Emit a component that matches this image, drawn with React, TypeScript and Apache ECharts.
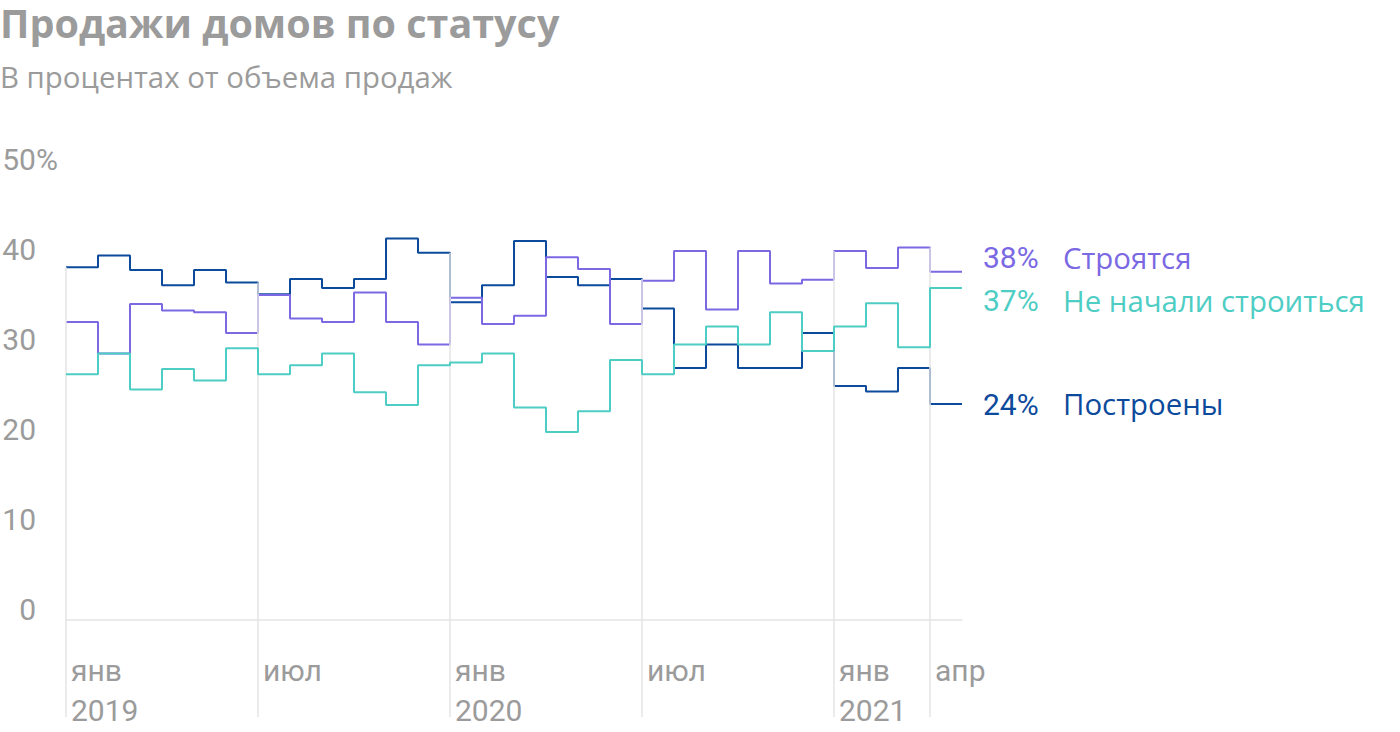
import React, { useEffect, useRef } from "react";
import * as echarts from "echarts";

// Months Jan 2019 .. Apr 2021 (28 months)
const builtValues = [39.2, 40.5, 38.9, 37.2, 38.9, 37.5, 36.2, 37.9, 36.9, 37.9, 42.4, 40.8, 35.3, 37.2, 42.1, 38.1, 37.2, 37.9, 34.6, 28.0, 30.6, 28.0, 28.0, 31.9, 26.0, 25.4, 28.0, 24.0];
const underConstructionValues = [33.1, 29.6, 35.1, 34.4, 34.2, 31.9, 36.1, 33.5, 33.1, 36.4, 33.1, 30.6, 35.8, 32.9, 33.8, 40.3, 39.0, 32.9, 37.7, 41.0, 34.5, 41.0, 37.4, 37.8, 41.0, 39.1, 41.4, 38.7];
const notStartedValues = [27.3, 29.6, 25.6, 27.9, 26.6, 30.2, 27.3, 28.3, 29.6, 25.3, 23.9, 28.3, 28.6, 29.6, 23.6, 20.9, 23.2, 28.9, 27.3, 30.6, 32.6, 30.6, 34.2, 29.9, 32.6, 35.2, 30.3, 36.9];

const seriesNames = ["Построены", "Строятся", "Не начали строиться"];
const seriesEndLabels = ["24%", "38%", "37%"];
const seriesColors = ["#0c4a9c", "#7b68e3", "#4ecdc4"];
const endLabelOffsets = [[16, 0], [16, -14], [16, 13]];

const xTickPositions = [0, 6, 12, 18, 24, 27];
const xTickLabels = ["янв\n2019", "июл", "янв\n2020", "июл", "янв\n2021", "апр"];
const yTicks = [0, 10, 20, 30, 40, 50];

const TITLE = "Продажи домов по статусу";
const SUBTITLE = "В процентах от объема продаж";

const FONT = "Roboto, 'Noto Sans', sans-serif";
const WIDE_FONT = "'Open Sans', Roboto, sans-serif";
const GRAY = "#9b9b9b";
const GRID_GRAY = "#e4e4e4";

export default function App() {
  const ref = useRef<HTMLDivElement>(null);

  useEffect(() => {
    if (!ref.current) return;
    const chart = echarts.init(ref.current, null, { renderer: "svg" });
    const all = [builtValues, underConstructionValues, notStartedValues];
    const nMonths = builtValues.length;

    const toStep = (vals: number[]) => {
      const d = vals.map((v, i) => [i, v]);
      d.push([vals.length, vals[vals.length - 1]]);
      return d;
    };

    const gridLines = xTickPositions.map((b) => {
      const idx = [b - 1, b].filter((i) => i >= 0 && i < nMonths);
      let top = 0;
      all.forEach((s) => idx.forEach((i) => (top = Math.max(top, s[i]))));
      return [{ coord: [b, top] }, { coord: [b, 0] }];
    });

    const lineSeries = all.map((vals, k) => ({
      name: seriesNames[k],
      type: "line",
      step: "end",
      data: toStep(vals),
      symbol: "none",
      z: 3 + k,
      lineStyle: { color: seriesColors[k], width: 2 },
      endLabel: {
        show: true,
        distance: 5,
        offset: endLabelOffsets[k],
        formatter: `{v|${seriesEndLabels[k]}}{n|${seriesNames[k]}}`,
        rich: {
          v: { width: 80, fontSize: 30, fontFamily: FONT, color: seriesColors[k] },
          n: { fontSize: 29.4, fontFamily: WIDE_FONT, color: seriesColors[k] },
        },
      },
    }));

    chart.setOption({
      animation: false,
      title: [
        {
          text: TITLE,
          left: 0,
          top: 1,
          padding: 0,
          textStyle: { fontFamily: WIDE_FONT, fontSize: 39.5, fontWeight: "bold", color: GRAY, lineHeight: 44 },
        },
        {
          text: SUBTITLE,
          left: 0,
          top: 60,
          padding: 0,
          textStyle: { fontFamily: WIDE_FONT, fontSize: 29.4, fontWeight: "normal", color: GRAY, lineHeight: 34 },
        },
      ],
      grid: { left: 66, right: 438, top: 170, bottom: 112, outerBoundsMode: "none", containLabel: false },
      xAxis: {
        type: "value",
        min: 0,
        max: nMonths,
        axisLine: { show: true, lineStyle: { color: GRID_GRAY, width: 1.5 } },
        axisTick: { show: true, customValues: xTickPositions, length: 97, lineStyle: { color: GRID_GRAY, width: 1.5 } },
        splitLine: { show: false },
        axisLabel: {
          customValues: xTickPositions,
          formatter: (v: number) => xTickLabels[xTickPositions.indexOf(v)] ?? "",
          align: "left",
          verticalAlign: "top",
          margin: 30,
          padding: [0, 0, 0, 5],
          lineHeight: 40,
          fontSize: 30,
          fontFamily: FONT,
          color: GRAY,
          hideOverlap: false,
        },
      },
      yAxis: {
        type: "value",
        min: 0,
        max: 50,
        interval: 10,
        axisLine: { show: false },
        axisTick: { show: false },
        splitLine: { show: false },
        axisLabel: {
          customValues: yTicks,
          align: "left",
          verticalAlign: "bottom",
          margin: 64,
          lineHeight: 22,
          fontSize: 30,
          fontFamily: FONT,
          color: GRAY,
          formatter: (v: number) => (v === 50 ? `{n|${v}}{p|%}` : `{n|${v}}`),
          rich: {
            n: { width: 34, align: "right", fontSize: 30, fontFamily: FONT, color: GRAY, lineHeight: 22 },
            p: { fontSize: 30, fontFamily: FONT, color: GRAY, lineHeight: 22 },
          },
        },
      },
      series: [
        {
          type: "line",
          data: [],
          z: 1,
          silent: true,
          markLine: {
            silent: true,
            symbol: "none",
            label: { show: false },
            lineStyle: { color: GRID_GRAY, width: 1.5, type: "solid" },
            data: gridLines,
          },
        },
        ...lineSeries,
      ],
    });

    return () => chart.dispose();
  }, []);

  return (
    <div
      ref={ref}
      style={{ position: "fixed", left: 0, top: 0, width: 1400, height: 732, background: "#fff" }}
    />
  );
}
